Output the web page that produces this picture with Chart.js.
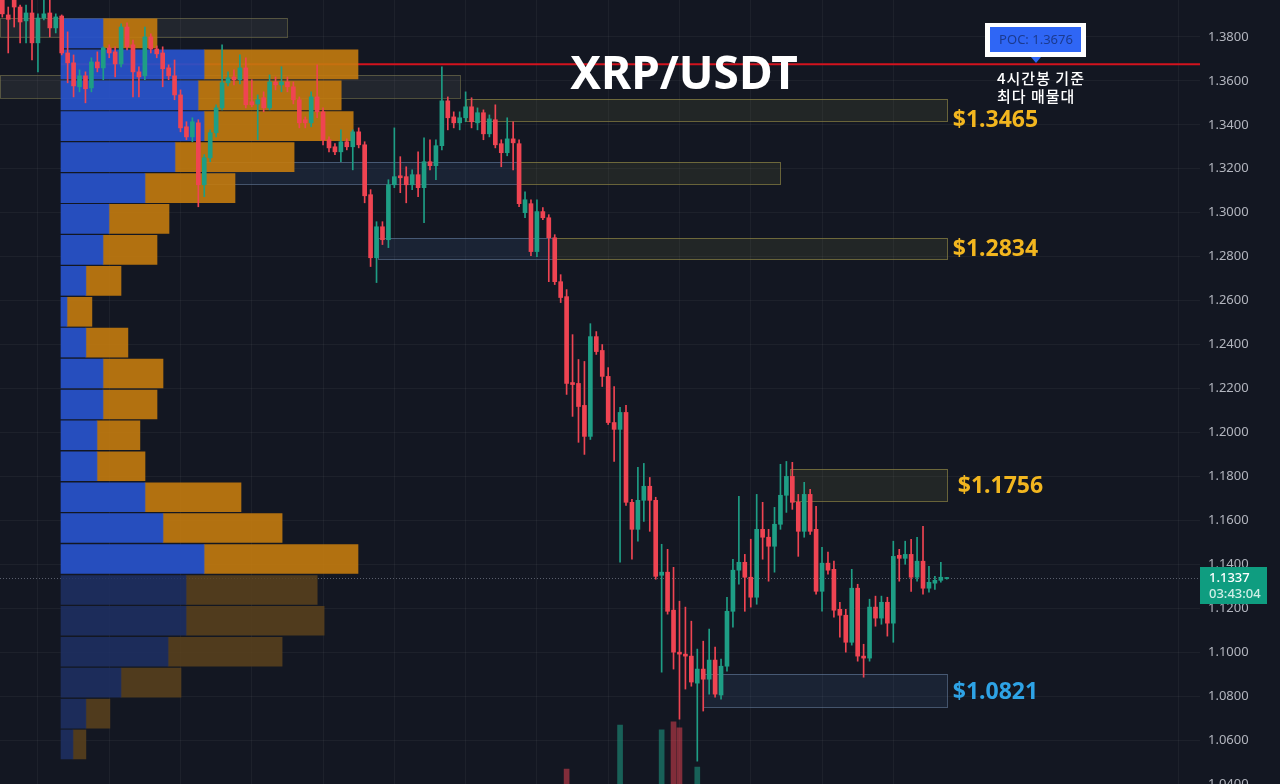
<!DOCTYPE html>
<html lang="ko">
<head>
<meta charset="utf-8">
<title>XRP/USDT</title>
<script src="https://cdn.jsdelivr.net/npm/chart.js@4.4.1/dist/chart.umd.min.js"></script>
<style>
  html, body { margin: 0; padding: 0; background: #131722; }
  #wrap { width: 1280px; height: 784px; position: relative; }
</style>
</head>
<body>
<div id="wrap"><canvas id="xrpChart"></canvas></div>
<script>
// 4h candles, oldest first
const opens = [
  1.3985, 1.3900, 1.3982, 1.3936, 1.3873, 1.3909, 1.3773, 1.3886, 1.3909, 1.3841,
  1.3895, 1.3727, 1.3682, 1.3573, 1.3623, 1.3568, 1.3686, 1.3659, 1.3750, 1.3732,
  1.3677, 1.3845, 1.3764, 1.3641, 1.3623, 1.3800, 1.3745, 1.3727, 1.3659, 1.3623,
  1.3536, 1.3391, 1.3345, 1.3409, 1.3127, 1.3250, 1.3364, 1.3477, 1.3591, 1.3618,
  1.3605, 1.3659, 1.3505, 1.3495, 1.3523, 1.3477, 1.3595, 1.3582, 1.3595, 1.3573,
  1.3514, 1.3423, 1.3409, 1.3527, 1.3459, 1.3332, 1.3300, 1.3277, 1.3323, 1.3300,
  1.3368, 1.3309, 1.3082, 1.2795, 1.2936, 1.2877, 1.3127, 1.3168, 1.3164, 1.3127,
  1.3173, 1.3114, 1.3232, 1.3214, 1.3305, 1.3509, 1.3436, 1.3409, 1.3432, 1.3482,
  1.3409, 1.3455, 1.3359, 1.3423, 1.3314, 1.3273, 1.3336, 1.3314, 1.3000, 1.3041,
  1.2823, 1.3005, 1.2977, 1.2886, 1.2686, 1.2618, 1.2227, 1.2223, 1.2123, 1.1982,
  1.2436, 1.2373, 1.2255, 1.2045, 1.2014, 1.2091, 1.1682, 1.1559, 1.1691, 1.1755,
  1.1691, 1.1350, 1.1364, 1.1191, 1.1000, 1.0991, 1.0982, 1.0859, 1.0923, 1.0877,
  1.0964, 1.0805, 1.0936, 1.1186, 1.1373, 1.1409, 1.1341, 1.1250, 1.1559, 1.1523,
  1.1482, 1.1582, 1.1714, 1.1800, 1.1682, 1.1550, 1.1718, 1.1559, 1.1277, 1.1405,
  1.1377, 1.1195, 1.1168, 1.1045, 1.1291, 1.0982, 1.0973, 1.1205, 1.1155, 1.1227,
  1.1132, 1.1441, 1.1427, 1.1445, 1.1341, 1.1414, 1.1291, 1.1314, 1.1327, 1.1335
];
const highs = [
  1.3995, 1.3936, 1.3991, 1.3945, 1.3945, 1.3968, 1.3905, 1.3968, 1.3968, 1.3905,
  1.3900, 1.3823, 1.3718, 1.3650, 1.3641, 1.3705, 1.3732, 1.3755, 1.3764, 1.3755,
  1.3859, 1.3864, 1.3786, 1.3664, 1.3845, 1.3814, 1.3759, 1.3755, 1.3673, 1.3695,
  1.3559, 1.3414, 1.3432, 1.3423, 1.3264, 1.3377, 1.3491, 1.3764, 1.3641, 1.3650,
  1.3718, 1.3705, 1.3605, 1.3536, 1.3550, 1.3627, 1.3618, 1.3664, 1.3618, 1.3595,
  1.3527, 1.3436, 1.3550, 1.3673, 1.3477, 1.3345, 1.3314, 1.3377, 1.3336, 1.3377,
  1.3386, 1.3323, 1.3105, 1.2959, 1.2959, 1.3150, 1.3386, 1.3255, 1.3209, 1.3195,
  1.3277, 1.3341, 1.3332, 1.3332, 1.3664, 1.3527, 1.3459, 1.3459, 1.3550, 1.3523,
  1.3477, 1.3468, 1.3445, 1.3491, 1.3332, 1.3432, 1.3414, 1.3332, 1.3095, 1.3059,
  1.3059, 1.3023, 1.2991, 1.2900, 1.2718, 1.2650, 1.2445, 1.2332, 1.2323, 1.2495,
  1.2459, 1.2400, 1.2295, 1.2209, 1.2114, 1.2123, 1.1695, 1.1841, 1.1859, 1.1795,
  1.1705, 1.1491, 1.1468, 1.1386, 1.1232, 1.1205, 1.1141, 1.1014, 1.1050, 1.1105,
  1.1023, 1.0968, 1.1250, 1.1423, 1.1709, 1.1445, 1.1514, 1.1718, 1.1682, 1.1559,
  1.1659, 1.1855, 1.1868, 1.1864, 1.1718, 1.1773, 1.1741, 1.1664, 1.1477, 1.1455,
  1.1414, 1.1227, 1.1195, 1.1377, 1.1309, 1.1036, 1.1241, 1.1255, 1.1255, 1.1250,
  1.1505, 1.1468, 1.1505, 1.1514, 1.1523, 1.1573, 1.1391, 1.1345, 1.1409, 1.1340
];
const lows = [
  1.3890, 1.3727, 1.3845, 1.3773, 1.3773, 1.3695, 1.3641, 1.3877, 1.3800, 1.3818,
  1.3718, 1.3591, 1.3527, 1.3550, 1.3500, 1.3550, 1.3641, 1.3605, 1.3705, 1.3618,
  1.3664, 1.3741, 1.3527, 1.3527, 1.3605, 1.3727, 1.3705, 1.3573, 1.3605, 1.3514,
  1.3368, 1.3332, 1.3323, 1.3027, 1.3073, 1.3232, 1.3345, 1.3468, 1.3577, 1.3582,
  1.3586, 1.3477, 1.3482, 1.3332, 1.3459, 1.3468, 1.3559, 1.3550, 1.3550, 1.3495,
  1.3386, 1.3386, 1.3391, 1.3432, 1.3309, 1.3277, 1.3264, 1.3232, 1.3286, 1.3195,
  1.3295, 1.3045, 1.2755, 1.2682, 1.2855, 1.2841, 1.3114, 1.3091, 1.3045, 1.3105,
  1.3073, 1.2955, 1.3195, 1.3150, 1.3286, 1.3377, 1.3386, 1.3377, 1.3414, 1.3386,
  1.3377, 1.3332, 1.3345, 1.3295, 1.3209, 1.3259, 1.3195, 1.3027, 1.2977, 1.2805,
  1.2800, 1.2968, 1.2686, 1.2673, 1.2591, 1.2173, 1.2073, 1.1955, 1.1900, 1.1968,
  1.2355, 1.2209, 1.2036, 1.1868, 1.1409, 1.1668, 1.1423, 1.1505, 1.1595, 1.1550,
  1.1332, 1.0909, 1.1173, 1.0923, 1.0695, 1.0832, 1.0845, 1.0504, 1.0732, 1.0809,
  1.0795, 1.0786, 1.0914, 1.1114, 1.1309, 1.1186, 1.1205, 1.1218, 1.1423, 1.1323,
  1.1364, 1.1559, 1.1636, 1.1650, 1.1436, 1.1523, 1.1536, 1.1264, 1.1186, 1.1355,
  1.1159, 1.1068, 1.1000, 1.1032, 1.0959, 1.0886, 1.0959, 1.1118, 1.1127, 1.1073,
  1.1045, 1.1323, 1.1400, 1.1277, 1.1323, 1.1264, 1.1273, 1.1286, 1.1318, 1.1332
];
const closes = [
  1.3905, 1.3880, 1.3936, 1.3868, 1.3909, 1.3773, 1.3886, 1.3905, 1.3841, 1.3891,
  1.3727, 1.3682, 1.3577, 1.3623, 1.3564, 1.3686, 1.3659, 1.3750, 1.3727, 1.3677,
  1.3845, 1.3755, 1.3641, 1.3618, 1.3800, 1.3745, 1.3723, 1.3655, 1.3623, 1.3536,
  1.3386, 1.3345, 1.3414, 1.3127, 1.3250, 1.3364, 1.3477, 1.3591, 1.3614, 1.3605,
  1.3659, 1.3491, 1.3491, 1.3514, 1.3477, 1.3595, 1.3582, 1.3595, 1.3573, 1.3514,
  1.3409, 1.3409, 1.3527, 1.3459, 1.3332, 1.3295, 1.3277, 1.3323, 1.3300, 1.3368,
  1.3309, 1.3077, 1.2795, 1.2936, 1.2877, 1.3127, 1.3164, 1.3159, 1.3127, 1.3173,
  1.3114, 1.3232, 1.3214, 1.3305, 1.3509, 1.3432, 1.3409, 1.3432, 1.3482, 1.3414,
  1.3455, 1.3359, 1.3427, 1.3309, 1.3273, 1.3336, 1.3318, 1.3041, 1.3059, 1.2823,
  1.3005, 1.2977, 1.2886, 1.2686, 1.2614, 1.2223, 1.2218, 1.2118, 1.1982, 1.2436,
  1.2368, 1.2255, 1.2045, 1.2014, 1.2091, 1.1682, 1.1559, 1.1691, 1.1755, 1.1691,
  1.1345, 1.1364, 1.1186, 1.1000, 1.0991, 1.0982, 1.0864, 1.0923, 1.0877, 1.0964,
  1.0809, 1.0936, 1.1186, 1.1373, 1.1409, 1.1341, 1.1250, 1.1559, 1.1523, 1.1482,
  1.1582, 1.1714, 1.1800, 1.1682, 1.1550, 1.1718, 1.1550, 1.1277, 1.1405, 1.1373,
  1.1191, 1.1168, 1.1045, 1.1291, 1.0982, 1.0973, 1.1205, 1.1155, 1.1227, 1.1132,
  1.1436, 1.1427, 1.1445, 1.1341, 1.1414, 1.1291, 1.1318, 1.1327, 1.1341, 1.1337
];

// volume bars that reach into the visible area (candle index, volume M)
const volIndex = [95, 104, 111, 113, 114, 117];
const volValue = [42.3, 49.0, 48.3, 49.5, 48.6, 42.6];

// volume profile rows (row mid price, buy / sell volume M)
const profilePrice = [
  1.3816, 1.3675, 1.3534, 1.3394, 1.3253, 1.3112, 1.2972, 1.2831,
  1.2690, 1.2549, 1.2409, 1.2268, 1.2127, 1.1987, 1.1846, 1.1705,
  1.1565, 1.1424, 1.1283, 1.1143, 1.1002, 1.0861, 1.0720, 1.0580
];
const buyVol = [
  14.0, 47.7, 45.7, 47.7, 38.0, 28.0, 16.0, 14.0,
  8.3, 2.0, 8.3, 14.0, 14.0, 12.0, 12.0, 28.0,
  34.0, 47.7, 41.7, 41.7, 35.7, 20.0, 8.3, 4.0
];
const sellVol = [
  18.0, 51.3, 47.7, 49.7, 39.7, 30.0, 20.0, 18.0,
  11.7, 8.3, 14.0, 20.0, 18.0, 14.3, 16.0, 32.0,
  39.7, 51.3, 43.7, 46.0, 38.0, 20.0, 8.0, 4.3
];
const valueAreaLow = 1.1354;
const pocPrice = 1.3676;
const pocLabelIndex = 174;
const lastPrice = 1.1337;
const countdown = '03:43:04';

// supply / demand zones (candle index range, price range)
const zoneFrom   = [-0.4, -0.4, 78.1, 34.1, 87.2, 63.3, 93.1, 132.6, 118];
const zoneTo     = [47.9, 77.1, 159, 87.2, 130.9, 93.1, 159, 159, 159];
const zoneTop    = [1.3886, 1.3627, 1.3518, 1.3232, 1.3232, 1.2886, 1.2886, 1.1832, 1.0900];
const zoneBottom = [1.3800, 1.3523, 1.3418, 1.3132, 1.3132, 1.2791, 1.2791, 1.1686, 1.0750];
const zoneKind   = ['old', 'old', 'supply', 'demand', 'supply', 'demand', 'supply', 'supply', 'demand'];

const levelPrice = [1.3465, 1.2834, 1.1756, 1.0821];
const levelKind  = ['supply', 'supply', 'supply', 'demand'];

const UP = '#1e9e85';
const DOWN = '#ef4452';
const zoneStyle = {
  old:    { fill: 'rgba(120,120,110,0.16)', line: 'rgba(130,125,80,0.55)' },
  supply: { fill: 'rgba(140,140,70,0.13)',  line: 'rgba(150,140,70,0.65)' },
  demand: { fill: 'rgba(70,110,160,0.14)',  line: 'rgba(110,135,170,0.55)' }
};
// small hand nudges for the level labels (px)
const labelDx = [0, 0, 5, 0];
const labelDy = [10, 0, 0, 1];

const idx = opens.map((_, i) => i);
const candleColor = idx.map(i => closes[i] >= opens[i] ? UP : DOWN);

const overlay = {
  id: 'overlay',
  beforeDatasetsDraw(chart) {
    const { ctx, chartArea: a, scales } = chart;
    const x = scales.x, y = scales.y, xp = scales.xp;
    ctx.save();
    ctx.beginPath();
    ctx.rect(a.left, a.top, a.width, a.height);
    ctx.clip();
    zoneFrom.forEach((f, k) => {
      const x1 = Math.round(x.getPixelForValue(f));
      const x2 = Math.round(x.getPixelForValue(zoneTo[k]));
      const y1 = Math.round(y.getPixelForValue(zoneTop[k]));
      const y2 = Math.round(y.getPixelForValue(zoneBottom[k]));
      const st = zoneStyle[zoneKind[k]];
      ctx.fillStyle = st.fill;
      ctx.fillRect(x1, y1, x2 - x1, y2 - y1);
      ctx.strokeStyle = st.line;
      ctx.lineWidth = 1;
      ctx.strokeRect(x1 + 0.5, y1 + 0.5, x2 - x1, y2 - y1);
    });
    // last price dotted line
    const yl = Math.round(y.getPixelForValue(lastPrice)) + 0.5;
    ctx.strokeStyle = 'rgba(150,155,170,0.55)';
    ctx.setLineDash([1, 2]);
    ctx.beginPath();
    ctx.moveTo(a.left, yl);
    ctx.lineTo(a.right, yl);
    ctx.stroke();
    // POC line
    ctx.setLineDash([]);
    const yp = y.getPixelForValue(pocPrice);
    ctx.strokeStyle = '#d3131e';
    ctx.lineWidth = 2;
    ctx.beginPath();
    ctx.moveTo(xp.getPixelForValue(0), yp);
    ctx.lineTo(a.right, yp);
    ctx.stroke();
    ctx.restore();
  },
  afterDraw(chart) {
    const { ctx, chartArea: a, scales } = chart;
    const x = scales.x, y = scales.y;
    ctx.save();

    // title
    ctx.fillStyle = '#ffffff';
    ctx.font = 'bold 46px "Noto Sans"';
    ctx.textAlign = 'center';
    ctx.textBaseline = 'middle';
    ctx.fillText('XRP/USDT', 684, 76);

    // POC tag
    const px = Math.round(x.getPixelForValue(pocLabelIndex));
    const py = Math.round(y.getPixelForValue(pocPrice));
    ctx.fillStyle = '#ffffff';
    ctx.fillRect(px - 51, py - 41, 101, 34);
    ctx.fillStyle = '#2f66f5';
    ctx.fillRect(px - 46, py - 37, 91, 25);
    ctx.beginPath();
    ctx.moveTo(px - 5, py - 7);
    ctx.lineTo(px + 5, py - 7);
    ctx.lineTo(px, py - 1);
    ctx.closePath();
    ctx.fill();
    ctx.fillStyle = '#1b3a8f';
    ctx.font = '13px "Noto Sans"';
    ctx.fillText('POC: ' + pocPrice.toFixed(4), px, py - 24);

    ctx.fillStyle = '#ffffff';
    ctx.font = '500 15px "Noto Sans CJK KR"';
    ctx.letterSpacing = '1px';
    ctx.textAlign = 'left';
    ctx.fillText('4시간봉 기준', px - 39, py + 14);
    ctx.fillText('최다 매물대', px - 39, py + 32);
    ctx.letterSpacing = '0px';

    // level labels
    ctx.font = 'bold 23px "Noto Sans"';
    levelPrice.forEach((p, k) => {
      ctx.fillStyle = levelKind[k] === 'demand' ? '#2ea3e6' : '#f2b61f';
      ctx.fillText('$' + p.toFixed(4), x.getPixelForValue(159) + 6 + labelDx[k], y.getPixelForValue(p) + labelDy[k]);
    });

    // last price tag
    const yl = Math.round(y.getPixelForValue(lastPrice));
    ctx.fillStyle = '#0f9d80';
    ctx.fillRect(a.right, yl - 11, 67, 37);
    ctx.fillStyle = '#ffffff';
    ctx.font = '500 13px "Noto Sans"';
    ctx.fillText(lastPrice.toFixed(4), a.right + 9, yl);
    ctx.fillStyle = '#cfeee6';
    ctx.fillText(countdown, a.right + 9, yl + 16);
    ctx.restore();
  }
};

const noPad = s => { s.paddingTop = 0; s.paddingBottom = 0; s.paddingLeft = 0; s.paddingRight = 0; };

const ctx = document.getElementById('xrpChart').getContext('2d');
new Chart(ctx, {
  type: 'bar',
  data: {
    datasets: [
      {
        label: 'Body',
        data: idx.map(i => ({ x: i, y: [opens[i], closes[i]] })),
        backgroundColor: candleColor,
        barThickness: 4,
        minBarLength: 1,
        grouped: false,
        order: 0
      },
      {
        label: 'Wick',
        data: idx.map(i => ({ x: i, y: [lows[i], highs[i]] })),
        backgroundColor: candleColor,
        barThickness: 1,
        grouped: false,
        order: 1
      },
      {
        label: 'Volume',
        yAxisID: 'yv',
        data: volIndex.map((v, k) => ({ x: v, y: volValue[k] })),
        backgroundColor: volIndex.map(v => closes[v] >= opens[v] ? 'rgba(30,158,133,0.55)' : 'rgba(239,68,82,0.5)'),
        barThickness: 5,
        grouped: false,
        order: 2
      },
      {
        label: 'Buy volume',
        indexAxis: 'y',
        xAxisID: 'xp',
        yAxisID: 'y',
        data: profilePrice.map((p, k) => ({ x: [0, buyVol[k]], y: p })),
        backgroundColor: profilePrice.map(p => p >= valueAreaLow ? 'rgba(40,84,204,0.92)' : 'rgba(30,48,100,0.85)'),
        barThickness: 29,
        grouped: false,
        order: 3
      },
      {
        label: 'Sell volume',
        indexAxis: 'y',
        xAxisID: 'xp',
        yAxisID: 'y',
        data: profilePrice.map((p, k) => ({ x: [buyVol[k], buyVol[k] + sellVol[k]], y: p })),
        backgroundColor: profilePrice.map(p => p >= valueAreaLow ? 'rgba(196,123,14,0.9)' : 'rgba(92,66,28,0.85)'),
        barThickness: 29,
        grouped: false,
        order: 3
      }
    ]
  },
  options: {
    responsive: true,
    maintainAspectRatio: false,
    animation: false,
    events: [],
    layout: { padding: 0 },
    plugins: { legend: { display: false }, tooltip: { enabled: false } },
    scales: {
      x: {
        type: 'linear',
        min: -0.387,
        max: 201.63,
        offset: false,
        afterBuildTicks: s => { s.ticks = idx.concat([160, 170, 180, 190, 198]).filter(v => v % 12 === 6).map(v => ({ value: v })); },
        afterFit: s => { s.height = 0; noPad(s); },
        grid: { color: 'rgba(255,255,255,0.045)', offset: false, drawTicks: false },
        border: { display: false },
        ticks: { display: false }
      },
      y: {
        type: 'linear',
        position: 'right',
        min: 1.04,
        max: 1.3968,
        offset: false,
        afterFit: s => { s.width = 80; noPad(s); },
        grid: { color: 'rgba(255,255,255,0.045)', offset: false, drawTicks: false },
        border: { display: false },
        ticks: {
          stepSize: 0.02,
          includeBounds: false,
          padding: 8,
          color: '#b2b5be',
          font: { family: 'Noto Sans', size: 13 },
          callback: v => v.toFixed(4)
        }
      },
      xp: { type: 'linear', axis: 'x', display: false, offset: false, grid: { offset: false }, min: -20.333, max: 379.667 },
      yv: { type: 'linear', axis: 'y', display: false, offset: false, grid: { offset: false }, min: 40, max: 160 }
    }
  },
  plugins: [overlay]
});
</script>
</body>
</html>
